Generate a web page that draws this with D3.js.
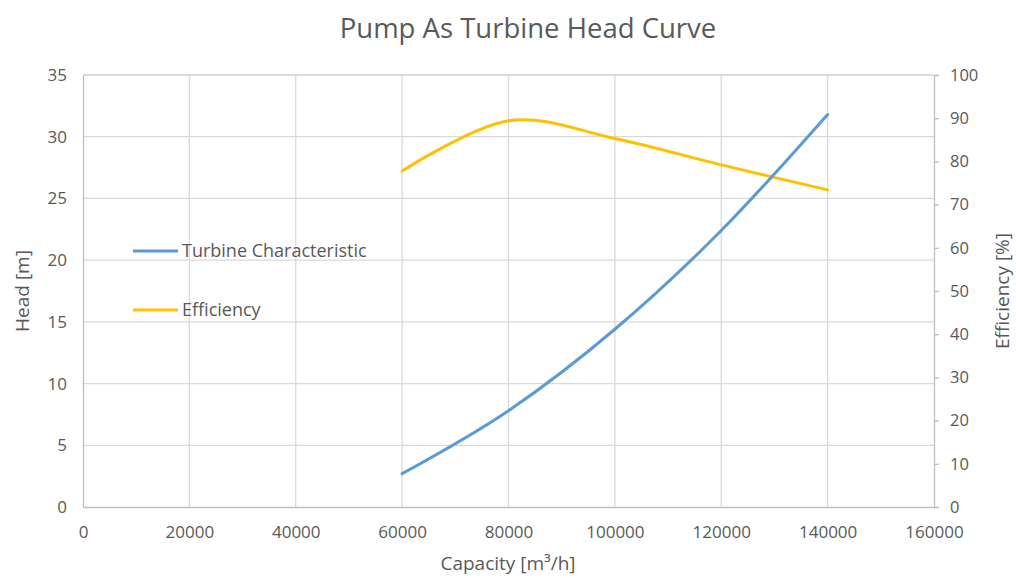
<!DOCTYPE html>
<html>
<head>
<meta charset="utf-8">
<script src="https://cdn.jsdelivr.net/npm/d3@7"></script>
<style>
  html, body { margin: 0; padding: 0; background: #fff; }
  svg text { font-family: "Open Sans", "Noto Sans", sans-serif; fill: #595959; }
</style>
</head>
<body>
<svg id="chart" width="1016" height="578"></svg>
<script>
// Pump-as-turbine test data
const capacity = [60000, 80000, 100000, 120000, 140000];   // m³/h
const head = [2.7, 7.8, 14.4, 22.4, 31.8];                  // m
const efficiency = [77.8, 89.4, 85.3, 79.2, 73.4];          // %

const xTicks = [0, 20000, 40000, 60000, 80000, 100000, 120000, 140000, 160000];
const headTicks = [0, 5, 10, 15, 20, 25, 30, 35];
const effTicks = [0, 10, 20, 30, 40, 50, 60, 70, 80, 90, 100];

const seriesNames = ["Turbine Characteristic", "Efficiency"];
const seriesColors = ["#5B9BD5", "#FFC000"];

const svg = d3.select("#chart");
const plot = { left: 83, right: 934, top: 75, bottom: 507 };

const x = d3.scaleLinear().domain([0, 160000]).range([plot.left, plot.right]);
const yHead = d3.scaleLinear().domain([0, 35]).range([plot.bottom, plot.top]);
const yEff = d3.scaleLinear().domain([0, 100]).range([plot.bottom, plot.top]);

// Gridlines
svg.append("g")
  .selectAll("line.h")
  .data(headTicks.slice(1))
  .join("line")
  .attr("x1", plot.left).attr("x2", plot.right)
  .attr("y1", d => yHead(d)).attr("y2", d => yHead(d))
  .attr("stroke", "#d9d9d9").attr("stroke-width", 1.3);

svg.append("g")
  .selectAll("line.v")
  .data(xTicks.slice(1, -1))
  .join("line")
  .attr("x1", d => x(d)).attr("x2", d => x(d))
  .attr("y1", plot.top).attr("y2", plot.bottom)
  .attr("stroke", "#d9d9d9").attr("stroke-width", 1.3);

// Axes
const axisStyle = size => g => {
  g.select(".domain").attr("stroke", "#bfbfbf").attr("stroke-width", 1.3);
  g.selectAll(".tick line").attr("stroke", "#bfbfbf").attr("stroke-width", 1.3);
  g.selectAll(".tick text").attr("font-size", size).attr("fill", "#595959")
    .attr("font-family", "'Open Sans', 'Noto Sans', sans-serif");
};

svg.append("g")
  .attr("transform", `translate(0,${plot.bottom})`)
  .call(d3.axisBottom(x).tickValues(xTicks).tickFormat(d3.format("d")).tickSize(0).tickPadding(19))
  .call(axisStyle(17));

svg.append("g")
  .attr("transform", `translate(${plot.left},0)`)
  .call(d3.axisLeft(yHead).tickValues(headTicks).tickSize(0).tickPadding(16))
  .call(axisStyle(17));

svg.append("g")
  .attr("transform", `translate(${plot.right},0)`)
  .call(d3.axisRight(yEff).tickValues(effTicks).tickSizeInner(5).tickSizeOuter(5).tickPadding(11))
  .call(axisStyle(16.5));

// Top border of plot area
svg.append("line")
  .attr("x1", plot.left).attr("x2", plot.right)
  .attr("y1", plot.top).attr("y2", plot.top)
  .attr("stroke", "#d9d9d9").attr("stroke-width", 1.3);

// Curves
const curve = d3.curveCatmullRom.alpha(0);
const headLine = d3.line().x((d, i) => x(capacity[i])).y(d => yHead(d)).curve(curve);
const effLine = d3.line().x((d, i) => x(capacity[i])).y(d => yEff(d)).curve(curve);

svg.append("path").datum(efficiency)
  .attr("d", effLine).attr("fill", "none")
  .attr("stroke", seriesColors[1]).attr("stroke-width", 3).attr("stroke-linecap", "round");

svg.append("path").datum(head)
  .attr("d", headLine).attr("fill", "none")
  .attr("stroke", seriesColors[0]).attr("stroke-width", 3).attr("stroke-linecap", "round");

// Legend
const legend = svg.append("g");
const legendY = [251, 310];
seriesNames.forEach((name, i) => {
  legend.append("line")
    .attr("x1", 133).attr("x2", 178)
    .attr("y1", legendY[i]).attr("y2", legendY[i])
    .attr("stroke", seriesColors[i]).attr("stroke-width", 3);
  legend.append("text")
    .attr("x", 182).attr("y", legendY[i]).attr("dy", "0.35em")
    .attr("font-size", 18).text(name);
});

// Titles
svg.append("text")
  .attr("x", 528).attr("y", 38).attr("text-anchor", "middle")
  .attr("font-size", 27.5).text("Pump As Turbine Head Curve");

svg.append("text")
  .attr("x", 508).attr("y", 570).attr("text-anchor", "middle")
  .attr("font-size", 19).text("Capacity [m³/h]");

svg.append("text")
  .attr("transform", "translate(29,291) rotate(-90)")
  .attr("text-anchor", "middle").attr("font-size", 19).text("Head [m]");

svg.append("text")
  .attr("transform", "translate(1009,291) rotate(-90)")
  .attr("text-anchor", "middle").attr("font-size", 19).text("Efficiency [%]");
</script>
</body>
</html>
